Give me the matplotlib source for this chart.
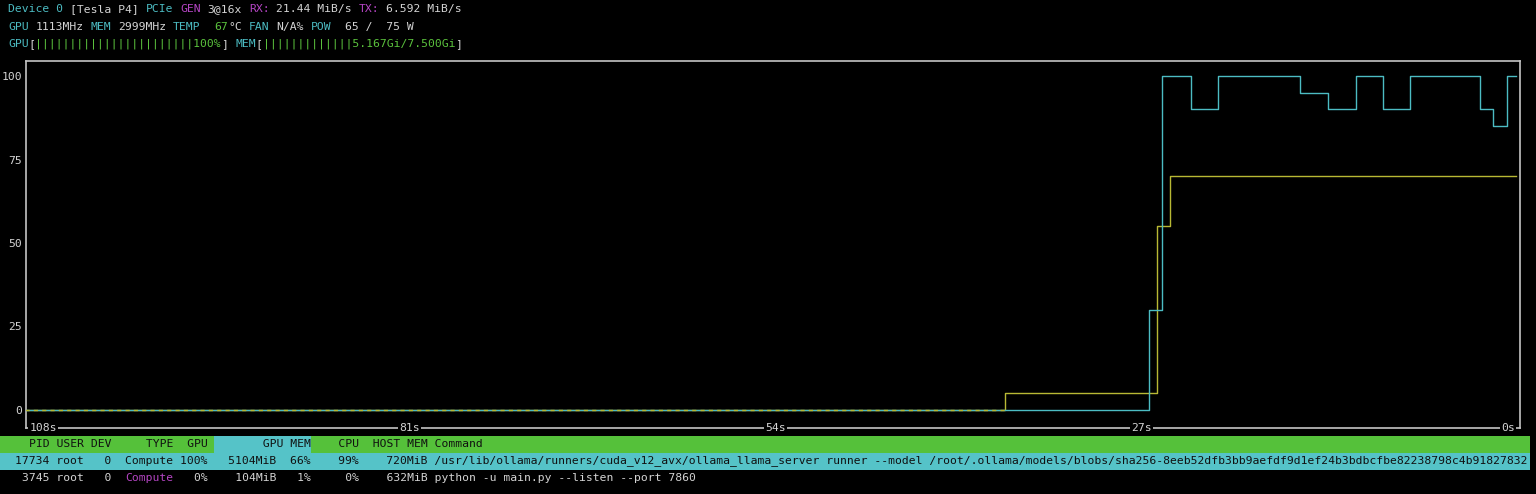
import matplotlib
matplotlib.use("Agg")
import matplotlib.pyplot as plt
from matplotlib.patches import Rectangle

# ---------- data ----------
# seconds relative to "now", value holds until the next time (step post)
gpu_time = [-109.3, -26.5, -25.5, -23.4, -21.4, -15.3, -13.3, -11.2, -9.2, -7.2, -2.1, -1.1, -0.1, 0.6]
gpu_util = [0, 30, 100, 90, 100, 95, 90, 100, 90, 100, 90, 85, 100, 100]

mem_time = [-109.3, -37.1, -25.9, -24.9, 0.6]
mem_util = [0, 5, 55, 70, 70]

x_ticks = [-108, -81, -54, -27, 0]
x_labels = ["108s", "81s", "54s", "27s", "0s"]
y_ticks = [0, 25, 50, 75, 100]
y_labels = ["0", "25", "50", "75", "100"]

cmd_long = ("/usr/lib/ollama/runners/cuda_v12_avx/ollama_llama_server runner --model "
            "/root/.ollama/models/blobs/sha256-8eeb52dfb3bb9aefdf9d1ef24b3bdbcfbe82238798c4b91827832")
cmd_short = "python -u main.py --listen --port 7860"

# ---------- style ----------
W, H = 1536, 494
CW, X0 = 6.88, 1.1          # terminal cell width / left offset in px
FS = 8.23
MONO = "DejaVu Sans Mono"
WHITE = "#d4d4d4"
GREY = "#c4c4c4"
CYAN = "#4cbcc3"
YELLOW = "#b8b834"
GREEN = "#5bc23d"
MAGENTA = "#b545c4"
BAR_GREEN = "#55c13a"
ROW_CYAN = "#55c3c8"
DARK = "#101010"

fig = plt.figure(figsize=(W / 100, H / 100), dpi=100, facecolor="black")

# overlay in screen pixels for the terminal text
ov = fig.add_axes([0, 0, 1, 1])
ov.set_xlim(0, W)
ov.set_ylim(H, 0)
ov.axis("off")


def put(y, col, segments):
    c = col
    for txt, color in segments:
        lead = len(txt) - len(txt.lstrip(" "))
        if txt.strip():
            ov.text(X0 + (c + lead) * CW, y, txt.strip(" "), color=color, family=MONO,
                    fontsize=FS, ha="left", va="center")
        c += len(txt)


# header lines
put(9, 1, [("Device 0", CYAN), (" [Tesla P4] ", WHITE), ("PCIe ", CYAN), ("GEN ", MAGENTA),
           ("3@16x ", WHITE), ("RX: ", MAGENTA), ("21.44 MiB/s ", WHITE), ("TX: ", MAGENTA),
           ("6.592 MiB/s", WHITE)])
put(27, 1, [("GPU ", CYAN), ("1113MHz ", WHITE), ("MEM ", CYAN), ("2999MHz ", WHITE),
            ("TEMP  ", CYAN), ("67", GREEN), ("°C ", WHITE), ("FAN ", CYAN), ("N/A% ", WHITE),
            ("POW ", CYAN), (" 65 /  75 W", WHITE)])
put(44, 1, [("GPU", CYAN), ("[", WHITE), ("|" * 23 + "100%", GREEN), ("]", WHITE),
            (" MEM", CYAN), ("[", WHITE), ("|" * 13 + "5.167Gi/7.500Gi", GREEN), ("]", WHITE)])

# legend inside the box
put(76, 4, [("GPU0 %", CYAN)])
put(93, 4, [("GPU0 mem%", YELLOW)])

# process table
ov.add_patch(Rectangle((0, 436), 1530, 16.5, color=BAR_GREEN, lw=0))
ov.add_patch(Rectangle((X0 + 31 * CW, 436), 14 * CW, 16.5, color=ROW_CYAN, lw=0))
ov.add_patch(Rectangle((0, 452.5), 1530, 17, color=ROW_CYAN, lw=0))
put(444, 0, [("    PID USER DEV     TYPE  GPU        GPU MEM    CPU  HOST MEM Command", DARK)])
put(461, 0, [("  17734 root   0  Compute 100%   5104MiB  66%    99%    720MiB " + cmd_long, DARK)])
put(478, 0, [("   3745 root   0  ", WHITE), ("Compute", MAGENTA),
             ("   0%    104MiB   1%     0%    632MiB " + cmd_short, WHITE)])

# ---------- the chart ----------
ax = fig.add_axes([26 / W, 1 - 428 / H, (1520 - 26) / W, (428 - 61) / H])
ax.set_facecolor("black")
ax.step(mem_time, mem_util, where="post", color=YELLOW, lw=1.0, zorder=2)
ax.step(gpu_time, gpu_util, where="post", color=CYAN, lw=1.0, zorder=3)
# where both sit on 0 the terminal shows them alternating
ax.plot(mem_time[:2], mem_util[:1] * 2, color=YELLOW, lw=1.0, ls=(0, (3, 3)), zorder=4)

px = 1465.0 / 108            # px per second
ax.set_xlim(-108 - 17 / px, 12 / px)
ax.set_ylim(-18 / 3.34, 100 + 15 / 3.34)

for s in ax.spines.values():
    s.set_color(GREY)
    s.set_linewidth(1.2)

ax.set_xticks([])
ax.set_yticks(y_ticks)
ax.set_yticklabels(y_labels, family=MONO, fontsize=FS, color=WHITE)
ax.tick_params(axis="y", length=0, pad=3)

for t, lab in zip(x_ticks, x_labels):
    ax.text(t, 0, lab, transform=ax.get_xaxis_transform(), ha="center", va="center",
            family=MONO, fontsize=FS, color=WHITE, clip_on=False, zorder=5,
            bbox=dict(facecolor="black", edgecolor="none", pad=1.0))

fig.savefig("out.png", dpi=100, facecolor="black")
